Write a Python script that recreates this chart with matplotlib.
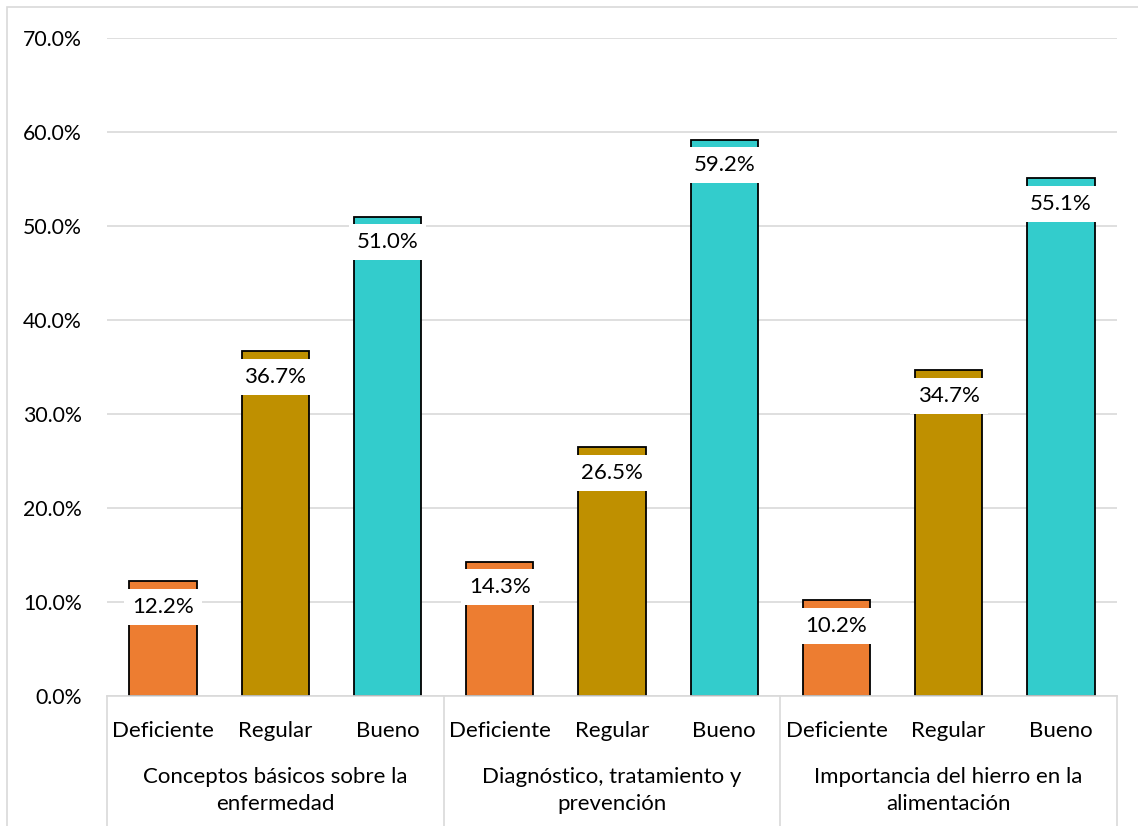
import matplotlib
matplotlib.use("Agg")
import matplotlib.pyplot as plt
from matplotlib.patches import Rectangle

groups = [["Conceptos básicos sobre la", "enfermedad"],
          ["Diagnóstico, tratamiento y", "prevención"],
          ["Importancia del hierro en la", "alimentación"]]
levels = ["Deficiente", "Regular", "Bueno"]
values = [[12.2, 36.7, 51.0],
          [14.3, 26.5, 59.2],
          [10.2, 34.7, 55.1]]
yticks = [0, 10, 20, 30, 40, 50, 60, 70]
colors = ["#ED7D31", "#BF9000", "#33CCCC"]

plt.rcParams['font.family'] = ['Lato', 'DejaVu Sans']
W, H = 1138, 826
fig = plt.figure(figsize=(W/100, H/100), dpi=100)
AH = 696 - 38
ax = fig.add_axes([107/W, 1-696/H, (1117-107)/W, AH/H])

fs = 16
xs, hs, cs = [], [], []
for gi, g in enumerate(values):
    for li, v in enumerate(g):
        xs.append(gi*3 + li)
        hs.append(v)
        cs.append(colors[li])
ax.bar(xs, hs, width=0.6, color=cs, edgecolor="black", linewidth=1.3, zorder=3)
for x, v in zip(xs, hs):
    ax.annotate(f"{v:.1f}%", (x, v), xytext=(0, -18.5), textcoords="offset points",
                ha="center", va="center", fontsize=fs, zorder=5,
                bbox=dict(boxstyle="square,pad=0.36", fc="white", ec="none"))

ax.set_xlim(-0.5, 8.5)
ax.set_ylim(0, 70)
ax.set_yticks(yticks)
ax.set_yticklabels([f"{t:.1f}%" for t in yticks], fontsize=15.3)
ax.tick_params(axis="y", length=0, pad=18)
ax.tick_params(axis="x", length=0, labelbottom=False)
ax.grid(axis="y", color="#D9D9D9", linewidth=1.2, zorder=0)
for s in ["left", "right", "top"]:
    ax.spines[s].set_visible(False)
ax.spines["bottom"].set_color("#D9D9D9")
ax.spines["bottom"].set_linewidth(1.2)
ax.spines["bottom"].set_zorder(4)

trans = ax.get_xaxis_transform()
ylow = -(826-696)/AH
for xd in [-0.5, 2.5, 5.5, 8.5]:
    ax.plot([xd, xd], [0, ylow], color="#D9D9D9", linewidth=1.2, transform=trans, clip_on=False)
for i, x in enumerate(xs):
    ax.text(x, -41/AH, levels[i % 3], transform=trans, ha="center", va="baseline", fontsize=fs)
for gi, lines in enumerate(groups):
    for k, line in enumerate(lines):
        ax.text(gi*3+1, -(87 + 27*k)/AH, line, transform=trans, ha="center",
                va="baseline", fontsize=fs)

fig.patches.append(Rectangle((7/W, -0.1), 1.2, 1-7/H+0.1, transform=fig.transFigure,
                             fill=False, ec="#D9D9D9", lw=1.2))
fig.savefig("out.png", dpi=100)
